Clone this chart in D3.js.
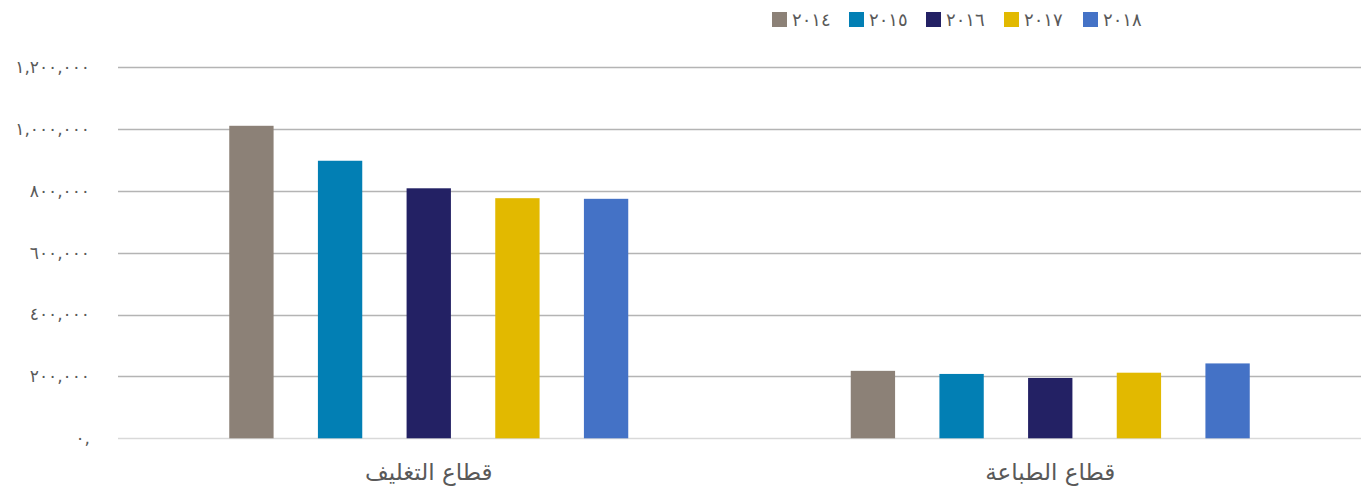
<!DOCTYPE html>
<html><head><meta charset="utf-8">
<script src="https://cdn.jsdelivr.net/npm/d3@7"></script>
<style>
body{margin:0;background:#fff;}
svg{display:block;font-family:"DejaVu Sans",sans-serif;}
</style></head>
<body><svg id="c" width="1369" height="491"></svg>
<script>
const categories = ["قطاع التغليف", "قطاع الطباعة"];
const years = ["٢٠١٤", "٢٠١٥", "٢٠١٦", "٢٠١٧", "٢٠١٨"];
const colors = ["#8c8177", "#027fb4", "#232164", "#e2b900", "#4472c6"];
const values2014 = [1010000, 218000];
const values2015 = [897000, 208000];
const values2016 = [808000, 195000];
const values2017 = [776000, 212000];
const values2018 = [774000, 242000];
const tickValues = [0, 200000, 400000, 600000, 800000, 1000000, 1200000];
const tickLabels = ["٠,", "٢٠٠,٠٠٠", "٤٠٠,٠٠٠", "٦٠٠,٠٠٠", "٨٠٠,٠٠٠", "١,٠٠٠,٠٠٠", "١,٢٠٠,٠٠٠"];

const series = [values2014, values2015, values2016, values2017, values2018];
const svg = d3.select("#c");
const mLeft = 118, mRight = 1361, mTop = 67, mBottom = 438.3;

const y = d3.scaleLinear().domain([0, 1200000]).range([mBottom, mTop]);
const x0 = d3.scaleBand().domain(categories).range([mLeft, mRight]).padding(0);
const bw = x0.bandwidth();
const gw = 399;
const x1 = d3.scaleBand().domain(years).range([(bw - gw) / 2, (bw + gw) / 2]).paddingInner(0.5).paddingOuter(0);

// gridlines
svg.append("g").selectAll("line").data(tickValues).join("line")
  .attr("x1", mLeft).attr("x2", mRight)
  .attr("y1", d => Math.round(y(d)) + 0.5).attr("y2", d => Math.round(y(d)) + 0.5)
  .attr("stroke", d => d === 0 ? "#d9d9d9" : "#b4b4b4").attr("stroke-width", 1.5);

// y labels
svg.append("g").selectAll("text").data(tickValues).join("text")
  .attr("x", 90).attr("y", d => y(d)).attr("dy", "0.35em")
  .attr("text-anchor", "end").attr("fill", "#595959").attr("font-size", 17)
  .attr("direction", "ltr")
  .text((d, i) => tickLabels[i]);

// bars
const g = svg.append("g").selectAll("g").data(categories).join("g")
  .attr("transform", c => `translate(${x0(c)},0)`);
g.selectAll("rect").data((c, ci) => years.map((yr, yi) => ({yr, yi, v: series[yi][ci]}))).join("rect")
  .attr("x", d => x1(d.yr)).attr("width", x1.bandwidth())
  .attr("y", d => y(d.v)).attr("height", d => y(0) - y(d.v))
  .attr("fill", d => colors[d.yi]);

// category labels
svg.append("g").selectAll("text").data(categories).join("text")
  .attr("x", c => x0(c) + bw / 2).attr("y", 472).attr("dy", "0.35em")
  .attr("text-anchor", "middle").attr("fill", "#595959").attr("font-size", 23)
  .text(c => c);

// legend
const lx = [772, 849, 926, 1004, 1083];
const lg = svg.append("g").selectAll("g").data(years).join("g")
  .attr("transform", (d, i) => `translate(${lx[i]},12)`);
lg.append("rect").attr("width", 15).attr("height", 15).attr("fill", (d, i) => colors[i]);
lg.append("text").attr("x", 20).attr("y", 7.5).attr("dy", "0.35em")
  .attr("fill", "#595959").attr("font-size", 18).attr("direction", "ltr").text(d => d);
</script></body></html>
